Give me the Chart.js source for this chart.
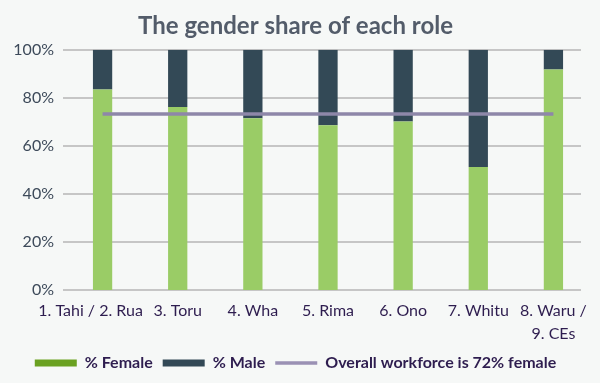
<!DOCTYPE html>
<html>
<head>
<meta charset="utf-8">
<script src="https://cdn.jsdelivr.net/npm/chart.js@4.4.1/dist/chart.umd.min.js"></script>
<style>
  html, body { margin: 0; padding: 0; background: #F6F8F7; }
  #wrap { width: 600px; height: 383px; }
</style>
</head>
<body>
<div id="wrap"><canvas id="c" width="600" height="383"></canvas></div>
<script>
const categories = ['1. Tahi / 2. Rua', '3. Toru', '4. Wha', '5. Rima', '6. Ono', '7. Whitu', ['8. Waru /', '9. CEs']];
const femaleShare = [83.5, 76.2, 71.5, 68.6, 70.2, 51.2, 91.8];
const maleShare = [16.5, 23.8, 28.5, 31.4, 29.8, 48.8, 8.2];
const overallFemale = [73.3, 73.3, 73.3, 73.3, 73.3, 73.3, 73.3];
const yTicks = [0, 20, 40, 60, 80, 100];
const titleText = 'The gender share of each role';
const legendNames = ['% Female', '% Male', 'Overall workforce is 72% female'];

const bgPlugin = {
  id: 'bg',
  beforeDraw(chart) {
    const ctx = chart.ctx;
    ctx.save();
    ctx.fillStyle = '#F6F8F7';
    ctx.fillRect(0, 0, chart.width, chart.height);
    ctx.restore();
  }
};

const gridPlugin = {
  id: 'customGrid',
  beforeDatasetsDraw(chart) {
    const y = chart.scales.y;
    const a = chart.chartArea;
    const ctx = chart.ctx;
    ctx.save();
    ctx.strokeStyle = '#C6C6C6';
    ctx.lineWidth = 2;
    y.ticks.forEach(t => {
      const py = Math.round(y.getPixelForValue(t.value));
      ctx.beginPath();
      ctx.moveTo(a.left - 2, py);
      ctx.lineTo(a.right - 10, py);
      ctx.stroke();
    });
    ctx.restore();
  }
};

new Chart(document.getElementById('c'), {
  data: {
    labels: categories,
    datasets: [
      {
        type: 'line',
        label: legendNames[2],
        data: overallFemale,
        borderColor: '#8E87A9',
        borderWidth: 3.5,
        pointRadius: 0,
        order: 0
      },
      {
        type: 'bar',
        label: legendNames[0],
        data: femaleShare,
        backgroundColor: '#9ACC66',
        order: 1
      },
      {
        type: 'bar',
        label: legendNames[1],
        data: maleShare,
        backgroundColor: '#334956',
        order: 2
      }
    ]
  },
  options: {
    responsive: false,
    animation: false,
    layout: { padding: { left: 0, right: 9, top: 0, bottom: 2 } },
    datasets: {
      bar: { categoryPercentage: 1, barPercentage: 0.2565 }
    },
    scales: {
      x: {
        stacked: true,
        afterFit(scale) { scale.height = 55; },
        grid: { display: false, drawTicks: false },
        border: { display: false },
        ticks: {
          color: '#2E1D4F',
          padding: 10,
          maxRotation: 0,
          autoSkip: false,
          font: { family: 'Lato', size: 16, lineHeight: 1.4 },
          callback(value, index) {
            const lab = this.getLabelForValue(value);
            return index === 0 ? lab + '\u2002\u2002\u2002' : lab;
          }
        }
      },
      y: {
        stacked: true,
        min: 0,
        max: 100,
        afterFit(scale) { scale.width = 65; },
        afterBuildTicks(scale) { scale.ticks = yTicks.map(v => ({ value: v })); },
        grid: { display: false, drawTicks: false },
        border: { display: false },
        ticks: {
          color: '#3D4A5A',
          padding: 11,
          font: { family: 'Lato', size: 16 },
          callback: v => v + '%'
        }
      }
    },
    plugins: {
      title: {
        display: true,
        text: titleText,
        color: '#535C6A',
        font: { family: 'Lato', size: 24, weight: 'bold', lineHeight: 1.2 },
        padding: { top: 12, bottom: 9 }
      },
      legend: {
        position: 'bottom',
        labels: {
          color: '#2E1D4F',
          font: { family: 'Lato', size: 16, weight: 'bold' },
          usePointStyle: true,
          pointStyleWidth: 42,
          padding: 10,
          generateLabels() {
            const colors = ['#6AA121', '#334956', '#9A91B4'];
            const widths = [7, 7, 3.5];
            return legendNames.map((n, i) => ({
              text: n,
              fillStyle: colors[i],
              strokeStyle: colors[i],
              lineWidth: widths[i],
              pointStyle: 'line',
              fontColor: '#2E1D4F',
              hidden: false,
              datasetIndex: i
            }));
          }
        }
      },
      tooltip: { enabled: false }
    }
  },
  plugins: [bgPlugin, gridPlugin]
});
</script>
</body>
</html>
